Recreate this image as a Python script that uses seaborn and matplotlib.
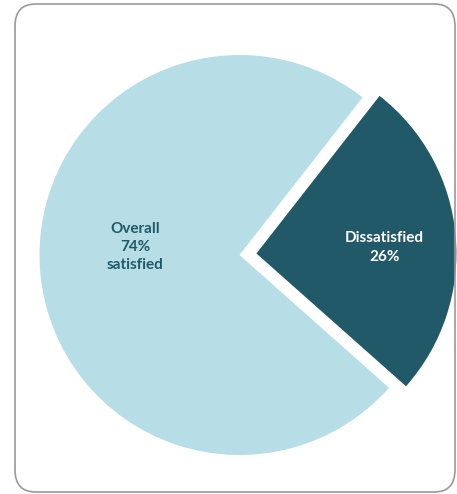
import matplotlib.pyplot as plt
import seaborn as sns
from matplotlib.patches import FancyBboxPatch

# Data
categories = ['Overall\n74%\nsatisfied', 'Dissatisfied\n26%']
shares = [74, 26]
slice_colors = ['#b7dde6', '#215968']
label_colors = ['#215968', '#ffffff']
explode = [0, 0.085]

sns.set_theme(style='white')
plt.rcParams['font.family'] = ['Lato', 'DejaVu Sans']

fig = plt.figure(figsize=(4.57, 4.94), dpi=100)
ax = fig.add_axes([0, 0, 1, 1])

wedges, _ = ax.pie(shares, colors=slice_colors, explode=explode,
                   startangle=52, counterclock=True,
                   wedgeprops=dict(linewidth=0))

# Label placement inside each slice
label_pos = [(-0.5225, 0.04), (0.725, 0.0375)]
for text, (x, y), col in zip(categories, label_pos, label_colors):
	ax.text(x, y, text, ha='center', va='center', color=col,
	        fontsize=11, fontweight='bold', linespacing=1.4)

# Keep 200 px per data unit, pie centre at (239.5, 255) px
ax.set_xlim(-1.1975, 1.0875)
ax.set_ylim(-1.195, 1.275)
ax.axis('off')

# Rounded outer frame
frame = FancyBboxPatch((15 / 457, 2 / 494), 440 / 457, 488 / 494,
                       boxstyle='round,pad=0,rounding_size=0.045',
                       transform=fig.transFigure, fill=False,
                       edgecolor='#9a9a9a', linewidth=1.2, zorder=5)
fig.patches.append(frame)

fig.savefig('out.png', dpi=100)
